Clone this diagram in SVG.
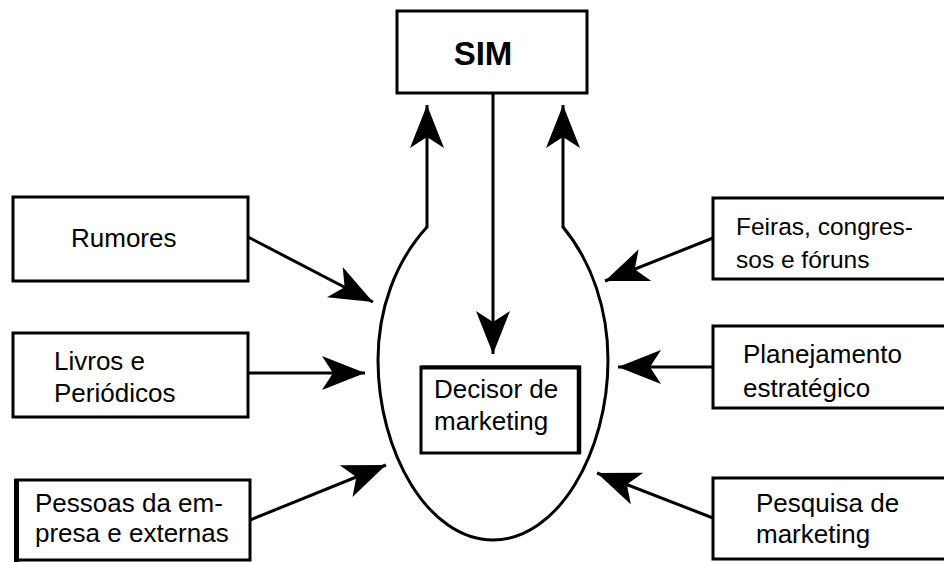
<svg xmlns="http://www.w3.org/2000/svg" width="944" height="562" viewBox="0 0 944 562">
<style>
.box{fill:#fff;stroke:#000;stroke-width:3}
.t{font-family:"Liberation Sans",Arial,sans-serif;font-size:26px;fill:#000}
.c{fill:none;stroke:#000;stroke-width:3}
</style>
<defs>
<marker id="ah" markerUnits="userSpaceOnUse" markerWidth="50" markerHeight="40" viewBox="-46 -20 48 40" refX="0" refY="0" orient="auto">
<path d="M0,0 L-43,-17 L-32,0 L-43,17 Z" fill="#000"/>
</marker>
</defs>
<rect width="944" height="562" fill="#fff"/>
<g id="connectors">
<path id="outline" class="c" d="M427,227 C395,262 378,310 378,360 C378,452 428,540 493,540 C558,540 608,452 608,360 C608,310 592,262 563,227"/>
<line class="c" x1="427" y1="228" x2="427" y2="105" marker-end="url(#ah)"/>
<line class="c" x1="563" y1="228" x2="563" y2="105" marker-end="url(#ah)"/>
<line class="c" x1="493" y1="93" x2="493" y2="354" marker-end="url(#ah)"/>
<line class="c" x1="248" y1="237" x2="373" y2="302" marker-end="url(#ah)"/>
<line class="c" x1="248" y1="373" x2="365" y2="373" marker-end="url(#ah)"/>
<line class="c" x1="250" y1="520" x2="386" y2="465" marker-end="url(#ah)"/>
<line class="c" x1="713" y1="238" x2="605" y2="281" marker-end="url(#ah)"/>
<line class="c" x1="713" y1="367" x2="618" y2="367" stroke-width="4.5" marker-end="url(#ah)"/>
<line class="c" x1="713" y1="518" x2="597" y2="473" marker-end="url(#ah)"/>
</g>
<g id="sim">
<rect class="box" x="397" y="11" width="190" height="82"/>
<text x="483" y="65" text-anchor="middle" style="font-family:'Liberation Sans',Arial,sans-serif;font-size:33px;font-weight:bold">SIM</text>
</g>
<g id="decisor">
<rect class="box" x="421" y="367" width="158" height="86"/>
<line x1="579" y1="366" x2="579" y2="454" stroke="#000" stroke-width="4.5"/>
<line x1="421" y1="367.5" x2="581" y2="367.5" stroke="#000" stroke-width="4"/>
<text class="t" x="434" y="398">Decisor de</text>
<text class="t" x="434" y="430">marketing</text>
</g>
<g id="rumores">
<rect class="box" x="13" y="197" width="235" height="84"/>
<text class="t" x="71" y="247">Rumores</text>
</g>
<g id="livros">
<rect class="box" x="13" y="333" width="235" height="84"/>
<text class="t" x="54" y="370">Livros e</text>
<text class="t" x="54" y="402">Periódicos</text>
</g>
<g id="pessoas">
<rect class="box" x="16" y="480" width="234" height="80"/>
<line x1="16.5" y1="479" x2="16.5" y2="562" stroke="#000" stroke-width="5"/>
<text class="t" x="35" y="512">Pessoas da em-</text>
<text class="t" x="35" y="542">presa e externas</text>
</g>
<g id="feiras">
<rect class="box" x="713" y="198" width="240" height="81"/>
<text class="t" x="736" y="235" style="font-size:24.5px">Feiras, congres-</text>
<text class="t" x="736" y="268" style="font-size:24.5px">sos e fóruns</text>
</g>
<g id="planejamento">
<rect class="box" x="713" y="326" width="240" height="82"/>
<text class="t" x="743" y="363">Planejamento</text>
<text class="t" x="743" y="397">estratégico</text>
</g>
<g id="pesquisa">
<rect class="box" x="713" y="478" width="240" height="81"/>
<text class="t" x="756" y="512">Pesquisa de</text>
<text class="t" x="756" y="543">marketing</text>
</g>
</svg>
